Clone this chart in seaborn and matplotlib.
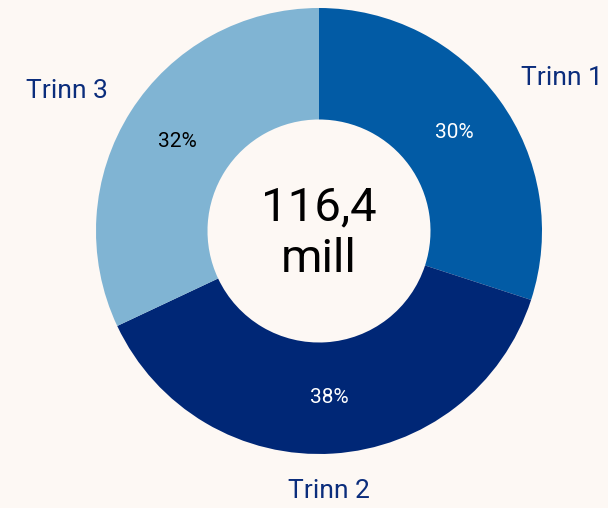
import matplotlib
matplotlib.use("Agg")
from matplotlib import pyplot as plt
import seaborn as sns

# data
stages = ["Trinn 1", "Trinn 2", "Trinn 3"]
shares = [30, 38, 32]
total_label = "116,4\nmill"

colors = ["#025ba5", "#002776", "#80b4d3"]
pct_colors = ["white", "white", "black"]
bg = "#fdf8f4"
label_color = "#0b2d7c"

sns.set_theme(style="white")
plt.rcParams['font.family'] = ['Roboto', 'DejaVu Sans']

fig = plt.figure(figsize=(6.08, 5.08), dpi=100, facecolor=bg)
ax = fig.add_axes([96 / 608, 54 / 508, 446 / 608, 446 / 508])
ax.set_facecolor(bg)

wedges, texts, autotexts = ax.pie(
    shares, labels=stages, colors=colors, startangle=90, counterclock=False,
    autopct=lambda p: f"{p:.0f}%", pctdistance=0.75, labeldistance=1.13,
    wedgeprops=dict(width=0.5, linewidth=0),
    textprops=dict(fontsize=19, color=label_color))

for t, c in zip(autotexts, pct_colors):
    t.set_color(c)
    t.set_fontsize(15)

# labels close to the vertical axis are centred
for t in texts:
    x, y = t.get_position()
    if abs(x) < 0.3:
        t.set_horizontalalignment("center")
        t.set_position((x * 0.6, y * 1.035))
    else:
        t.set_position((x * 0.99, y * 1.035))

ax.text(0, -0.01, total_label, ha="center", va="center", fontsize=34,
        color="black", linespacing=1.2)

ax.set_xlim(-1, 1)
ax.set_ylim(-1, 1)
ax.set_aspect("equal")

fig.savefig("out.png", dpi=100, facecolor=bg)
